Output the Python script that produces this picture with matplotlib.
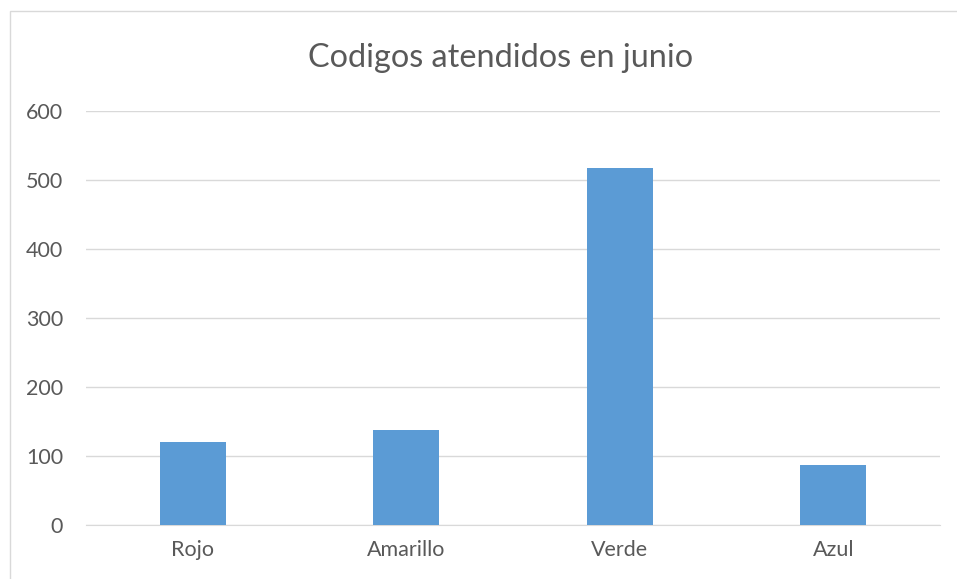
import matplotlib.pyplot as plt
from matplotlib.patches import Rectangle

categorias = ['Rojo', 'Amarillo', 'Verde', 'Azul']
valores = [120, 137, 518, 87]
yticks = [0, 100, 200, 300, 400, 500, 600]

plt.rcParams['font.family'] = ['Lato', 'DejaVu Sans']

W, H = 957, 579
fig = plt.figure(figsize=(W / 100, H / 100), dpi=100)

# marco exterior del grafico
fig.patches.append(Rectangle((10 / W, -0.2), 1.2, 1.2 - 11 / H, transform=fig.transFigure,
                             fill=False, edgecolor='#D9D9D9', linewidth=1))

ax = fig.add_axes([86 / W, 1 - 525 / H, (940 - 86) / W, (525 - 111) / H])
x = range(len(categorias))
ax.bar(x, valores, width=0.31, color='#5B9BD5', zorder=3)

ax.set_xlim(-0.5, len(categorias) - 0.5)
ax.set_ylim(0, 600)
ax.set_yticks(yticks)
ax.set_xticks(list(x))
ax.set_xticklabels(categorias)
ax.grid(axis='y', color='#D9D9D9', linewidth=1, zorder=0)
for s in ['top', 'right', 'left']:
    ax.spines[s].set_visible(False)
ax.spines['bottom'].set_color('#D9D9D9')
ax.tick_params(axis='both', length=0, colors='#595959', labelsize=15.5)
ax.tick_params(axis='y', pad=16.5)
ax.tick_params(axis='x', pad=11)

fig.text(501 / W, 1 - 58 / H, 'Codigos atendidos en junio', ha='center', va='center',
         fontsize=23.3, color='#595959')

fig.savefig('out.png', dpi=100)
